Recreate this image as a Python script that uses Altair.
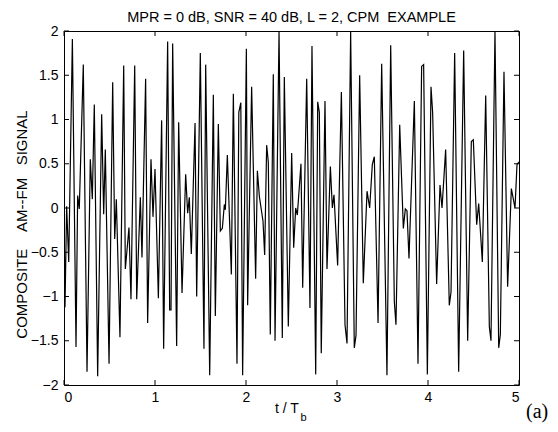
import altair as alt
import pandas as pd

# signal vertices, grouped per bit interval
T1 = [0.000, 0.011, 0.029, 0.052, 0.092, 0.132, 0.150, 0.168, 0.212, 0.253, 0.289, 0.311, 0.333, 0.370, 0.414,
      0.436, 0.454, 0.495, 0.535, 0.557, 0.575, 0.615, 0.656, 0.674, 0.714, 0.736, 0.777, 0.799, 0.839, 0.857,
      0.897, 0.919, 0.956, 0.978, 1.000]
V1 = [0.01, -1.12, 0.02, -0.61, 1.91, -1.57, 0.14, -0.01, 1.62, -1.85, 0.55, 0.10, 1.17, -1.90, 1.06,
      -0.07, 0.66, -1.76, 1.42, -0.35, 0.10, -1.46, 1.61, -0.69, -0.22, -1.03, 1.61, -1.03, 0.12, -0.56,
      1.46, -1.30, 0.55, -0.10, 0.44]

T2 = [1.037, 1.073, 1.095, 1.139, 1.161, 1.176, 1.194, 1.238, 1.260, 1.297, 1.337, 1.359, 1.377, 1.399, 1.440,
      1.458, 1.498, 1.538, 1.557, 1.601, 1.641, 1.663, 1.696, 1.718, 1.740, 1.762, 1.773, 1.795, 1.839,
      1.861, 1.901, 1.921, 1.943, 1.963, 2.004, 2.018]
V2 = [-1.02, 0.99, -1.59, 1.88, -1.15, -1.15, 1.86, -1.56, 0.97, -0.96, 0.38, -0.06, 0.12, -0.52, 0.96,
      -1.00, 1.75, -1.59, 1.62, -1.89, 1.28, -1.22, 0.95, -0.26, -0.23, 0.04, -0.02, 0.60, -0.75,
      1.29, -1.76, 1.08, 1.19, -1.89, 1.80, -1.10]

T3 = [2.062, 2.106, 2.125, 2.147, 2.187, 2.205, 2.227, 2.245, 2.267, 2.300, 2.319, 2.363, 2.399, 2.421,
      2.465, 2.502, 2.524, 2.546, 2.564, 2.604, 2.623, 2.667, 2.703, 2.725, 2.766, 2.788, 2.806, 2.827,
      2.868, 2.890]
V3 = [1.37, -0.80, 0.42, 0.13, -0.15, -0.53, 0.71, 0.52, -1.43, 1.51, -1.50, 1.99, -1.47, 1.48,
      -1.34, 0.62, -0.45, 0.00, -0.08, 0.50, -0.90, 1.46, -1.13, 1.83, -1.88, 1.20, 1.08, -1.64,
      1.21, -0.69]

T4 = [2.927, 2.949, 2.967, 3.007, 3.048, 3.088, 3.110, 3.150, 3.190, 3.209, 3.249, 3.289, 3.330, 3.359, 3.388,
      3.410, 3.451, 3.491, 3.549, 3.590, 3.630, 3.648, 3.689, 3.729, 3.751, 3.769, 3.791, 3.850, 3.890, 3.930,
      3.952]
V4 = [0.47, 0.00, 0.15, -0.65, 1.31, -1.32, -1.53, 1.99, -1.58, -1.44, 1.50, -0.85, 0.19, 0.00, 0.49,
      0.58, -1.30, 1.63, -1.89, 1.84, -1.06, -1.32, 0.94, -0.23, -0.01, -0.03, -0.57, 1.21, -1.76, 1.60,
      1.62]

T5 = [3.993, 4.033, 4.051, 4.095, 4.132, 4.154, 4.194, 4.234, 4.253, 4.293, 4.337, 4.392, 4.436, 4.476, 4.498,
      4.535, 4.557, 4.597, 4.634, 4.674, 4.692, 4.736, 4.777, 4.795, 4.835, 4.875, 4.916, 4.956, 4.978, 5.000]
V5 = [-1.88, 1.37, 1.08, -0.86, 0.26, 0.00, 0.66, -1.10, -0.95, 1.75, -1.85, 1.78, -1.50, 0.75, 0.77,
      -0.19, 0.05, -0.61, 1.27, -1.34, -1.50, 2.00, -1.58, -1.43, 1.54, -0.89, 0.22, 0.00, 0.49, 0.52]

XTICKS = [0, 1, 2, 3, 4, 5]
YTICKS = [-2, -1.5, -1, -0.5, 0, 0.5, 1, 1.5, 2]

TITLE = "MPR = 0 dB, SNR = 40 dB, L = 2, CPM\u00a0\u00a0EXAMPLE"
YTITLE = "COMPOSITE\u00a0\u00a0\u00a0\u00a0AM--FM\u00a0\u00a0\u00a0SIGNAL"
XTITLE = "t / T"
XSUB = "b"
PANEL = "(a)"

FONT = "Liberation Sans"
W, H = 455, 354

df = pd.DataFrame({"t": T1 + T2 + T3 + T4 + T5, "v": V1 + V2 + V3 + V4 + V5})
xt = pd.DataFrame({"t": XTICKS})
yt = pd.DataFrame({"v": YTICKS})

xs = alt.Scale(domain=[0, 5], nice=False, zero=False)
ys = alt.Scale(domain=[-2, 2], nice=False, zero=False)

xaxis = alt.Axis(values=XTICKS, ticks=False, domain=False, grid=False, format="d",
                 labelFont=FONT, labelFontSize=14, labelColor="black", labelPadding=5, title=None)
yaxis = alt.Axis(values=YTICKS, ticks=False, domain=False, grid=False, format="~g",
                 labelFont=FONT, labelFontSize=14, labelColor="black", labelPadding=6,
                 title=YTITLE, titleFont=FONT, titleFontSize=15, titleFontWeight="normal",
                 titleColor="black", titleBaseline="alphabetic", titleAngle=270,
                 titleX=-38, titleY=193)

X = alt.X("t:Q", scale=xs, axis=xaxis)
Y = alt.Y("v:Q", scale=ys, axis=yaxis)

line = alt.Chart(df).mark_line(color="black", strokeWidth=1.2, clip=True).encode(x=X, y=Y, order="t:Q")

tb = alt.Chart(xt).mark_rule(color="black", strokeWidth=1).encode(x=X, y=alt.value(H), y2=alt.value(H - 5))
tt = alt.Chart(xt).mark_rule(color="black", strokeWidth=1).encode(x=X, y=alt.value(0), y2=alt.value(5))
tl = alt.Chart(yt).mark_rule(color="black", strokeWidth=1).encode(y=Y, x=alt.value(0), x2=alt.value(5))
tr = alt.Chart(yt).mark_rule(color="black", strokeWidth=1).encode(y=Y, x=alt.value(W - 5), x2=alt.value(W))

one = pd.DataFrame({"k": [0]})
title = alt.Chart(one).mark_text(text=TITLE, font=FONT, fontSize=14.5, color="black",
                                 align="center", baseline="alphabetic").encode(
    x=alt.value(W / 2), y=alt.value(-9.5))
xlab = alt.Chart(one).mark_text(text=XTITLE, font=FONT, fontSize=14, color="black",
                                align="left", baseline="alphabetic").encode(
    x=alt.value(211), y=alt.value(382))
xsub = alt.Chart(one).mark_text(text=XSUB, font=FONT, fontSize=11, color="black",
                                align="left", baseline="alphabetic").encode(
    x=alt.value(236.5), y=alt.value(389.5))
panel = alt.Chart(one).mark_text(text=PANEL, font="Liberation Serif", fontSize=20, color="black",
                                 align="left", baseline="alphabetic").encode(
    x=alt.value(W + 7), y=alt.value(H + 33))

chart = alt.layer(line, tb, tt, tl, tr, title, xlab, xsub, panel).properties(
    width=W, height=H,
    autosize=alt.AutoSizeParams(type="none"),
    padding={"left": 56, "top": 23, "right": 31, "bottom": 38},
    background="white",
).configure_view(stroke="black", strokeWidth=1)

chart.save("out.html", embed_options={"renderer": "svg", "actions": False})
